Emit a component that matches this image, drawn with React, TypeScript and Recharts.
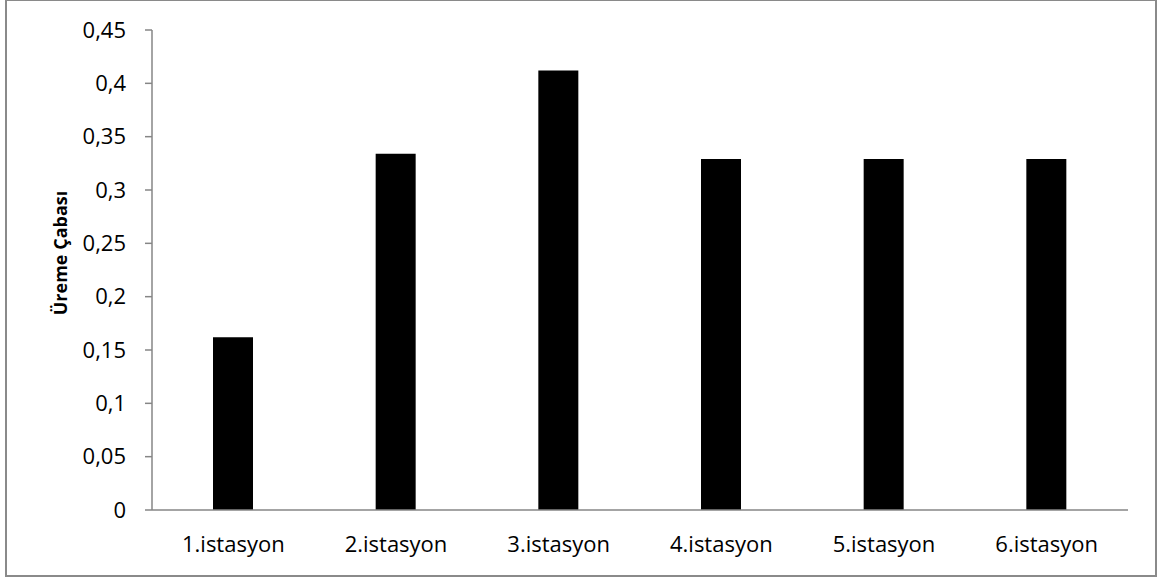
import React from 'react';
import { BarChart, Bar, XAxis, YAxis, Label } from 'recharts';

// Stations along the x axis
const stations = ['1.istasyon', '2.istasyon', '3.istasyon', '4.istasyon', '5.istasyon', '6.istasyon'];
// Reproductive effort per station
const effort = [0.162, 0.334, 0.412, 0.329, 0.329, 0.329];
// Y axis ticks
const yTicks = [0, 0.05, 0.1, 0.15, 0.2, 0.25, 0.3, 0.35, 0.4, 0.45];

const data = stations.map((name, i) => ({ name, value: effort[i] }));

const FONT = '"Open Sans", sans-serif';
const AXIS = '#868686';

const fmt = (v: number) => String(Number(v.toFixed(2))).replace('.', ',');

export default function App() {
  return (
    <div style={{ position: 'fixed', left: 0, top: 0, width: 1165, height: 579, background: '#fff', overflow: 'hidden' }}>
      <div
        style={{
          position: 'absolute',
          left: 5,
          top: -1,
          width: 1152,
          height: 578,
          border: '2px solid #8a8a8a',
          boxSizing: 'border-box',
        }}
      />
      <div style={{ position: 'absolute', left: 0, top: 0 }}>
        <BarChart width={1165} height={579} data={data} margin={{ top: 30, right: 37, bottom: 0, left: 0 }} barSize={40}>
          <XAxis
            dataKey="name"
            height={69}
            tickLine={false}
            tickSize={0}
            tickMargin={26}
            axisLine={{ stroke: AXIS, strokeWidth: 1.5 }}
            tick={{ fill: '#000', fontFamily: FONT, fontSize: 22 }}
            interval={0}
          />
          <YAxis
            width={152}
            domain={[0, 0.45]}
            ticks={yTicks}
            tickFormatter={fmt}
            tickSize={7}
            tickMargin={19}
            axisLine={{ stroke: AXIS, strokeWidth: 1.5 }}
            tickLine={{ stroke: AXIS, strokeWidth: 1.5 }}
            tick={{ fill: '#000', fontFamily: FONT, fontSize: 22 }}
            allowDataOverflow
          >
            <Label
              content={() => (
                <text
                  x={67}
                  y={253}
                  transform="rotate(-90, 67, 253)"
                  textAnchor="middle"
                  fontFamily={FONT}
                  fontSize={18}
                  fontWeight="bold"
                  fill="#000"
                >
                  Üreme Çabası
                </text>
              )}
            />
          </YAxis>
          <Bar dataKey="value" fill="#000" isAnimationActive={false} />
        </BarChart>
      </div>
    </div>
  );
}
